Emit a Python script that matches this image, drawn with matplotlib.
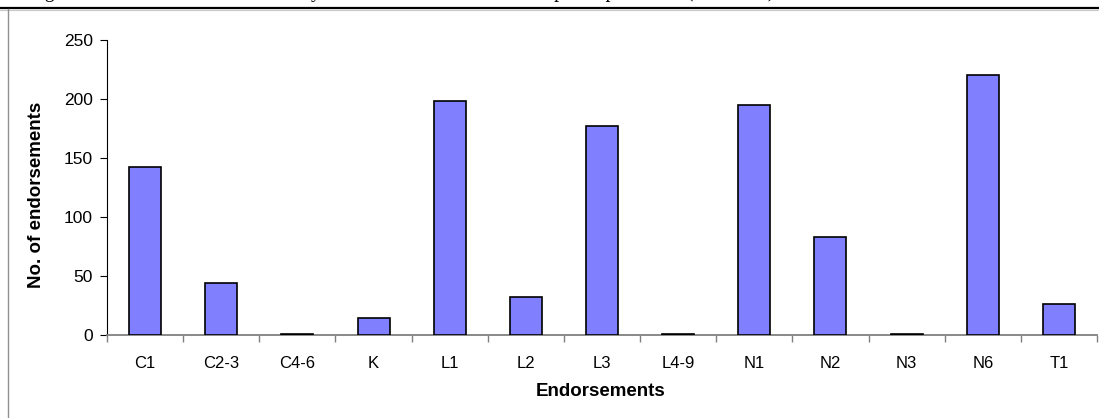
import matplotlib
matplotlib.use("Agg")
import matplotlib.pyplot as plt
from matplotlib.lines import Line2D

# Endorsement counts per category
categories = ["C1", "C2-3", "C4-6", "K", "L1", "L2", "L3", "L4-9",
              "N1", "N2", "N3", "N6", "T1"]
counts = [142, 44, 1, 14, 198, 32, 177, 1, 195, 83, 1, 220, 26]
y_ticks = [0, 50, 100, 150, 200, 250]

BAR_COLOR = "#8080FF"
W, H = 1099, 418

plt.rcParams["font.family"] = ["Liberation Sans", "DejaVu Sans"]

fig = plt.figure(figsize=(W / 100, H / 100), dpi=100)
fig.patch.set_facecolor("white")

# frame of the surrounding cell (caption line on top, border on the left)
fig.add_artist(Line2D([0, 1], [1 - 7.5 / H, 1 - 7.5 / H], color="black", lw=1.6,
                      transform=fig.transFigure))
fig.add_artist(Line2D([0, 1], [1 - 9.5 / H, 1 - 9.5 / H], color="#c8c8c8", lw=0.8,
                      transform=fig.transFigure))
fig.add_artist(Line2D([8 / W, 8 / W], [0, 1 - 8.5 / H], color="#909090", lw=1.0,
                      transform=fig.transFigure))

# caption running off the top of the cell
fig.text(28 / W, 1 + 3.5 / H,
         "Figure 5: Endorsements recorded by QTS trainees across the sample of providers (all routes)",
         family=["Liberation Serif", "DejaVu Serif"], fontsize=14.5,
         ha="left", va="baseline")

ax = fig.add_axes([107 / W, (H - 335) / H, 990 / W, 295 / H])
x = list(range(len(categories)))
ax.bar(x, counts, width=0.42, color=BAR_COLOR, edgecolor="black", linewidth=1.2,
       zorder=3)

ax.set_xlim(-0.5, len(categories) - 0.5)
ax.set_ylim(0, 250)
ax.set_yticks(y_ticks)
ax.set_yticklabels([str(v) for v in y_ticks], fontsize=12.5)

# tick marks between categories, labels centred under the bars
ax.set_xticks([i - 0.5 for i in range(len(categories) + 1)])
ax.set_xticklabels([])
ax.set_xticks(x, minor=True)
ax.set_xticklabels(categories, minor=True, fontsize=12)
ax.tick_params(axis="x", which="major", direction="out", length=5, width=1.0,
               color="#808080")
ax.tick_params(axis="x", which="minor", length=0, pad=15)
ax.tick_params(axis="y", direction="out", length=5, width=0.8, color="black", pad=5)

for side in ("top", "right"):
    ax.spines[side].set_visible(False)
ax.spines["left"].set_color("black")
ax.spines["left"].set_linewidth(0.8)
ax.spines["bottom"].set_color("#808080")
ax.spines["bottom"].set_linewidth(1.3)

fig.text(37 / W, 1 - 195 / H, "No. of endorsements", rotation=90,
         fontsize=13.5, fontweight="bold", ha="center", va="center")
fig.text(601 / W, 1 - 392 / H, "Endorsements", fontsize=13.5,
         fontweight="bold", ha="center", va="center")

fig.savefig("out.png", dpi=100, facecolor=fig.get_facecolor())
